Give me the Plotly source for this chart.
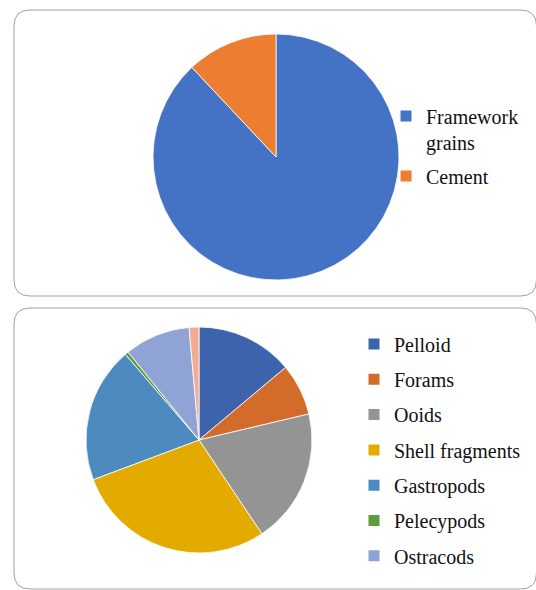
import plotly.graph_objects as go

W, H = 536, 590

# ---- data ----
top_labels = ["Framework grains", "Cement"]
top_legend_text = ["Framework<br>grains", "Cement"]
top_values = [88.0, 12.0]
top_colors = ["#4472C4", "#ED7D31"]

bot_labels = ["Pelloid", "Forams", "Ooids", "Shell fragments", "Gastropods",
              "Pelecypods", "Ostracods", "Other"]
bot_values = [13.9, 7.4, 19.3, 28.7, 19.4, 0.5, 9.4, 1.4]
bot_colors = ["#3D63AC", "#D36B2A", "#949494", "#E3AB00", "#4D8AC0",
              "#5E9C3C", "#8FA3D5", "#F2AC94"]
bot_legend_count = 7  # legend shows the first seven categories

FONT = "Liberation Serif"
FS = 20


def px_x(v):
    return v / W


def px_y(v):
    return 1 - v / H


def domain(cx, cy, r):
    return dict(x=[px_x(cx - r), px_x(cx + r)], y=[px_y(cy + r), px_y(cy - r)])


def rounded_rect(x0, y0, x1, y1, r):
    rx, ry = r / W, r / H
    X0, X1 = px_x(x0), px_x(x1)
    Y0, Y1 = px_y(y0), px_y(y1)  # Y0 top, Y1 bottom
    return (f"M {X0+rx},{Y0} L {X1-rx},{Y0} Q {X1},{Y0} {X1},{Y0-ry} "
            f"L {X1},{Y1+ry} Q {X1},{Y1} {X1-rx},{Y1} "
            f"L {X0+rx},{Y1} Q {X0},{Y1} {X0},{Y1+ry} "
            f"L {X0},{Y0-ry} Q {X0},{Y0} {X0+rx},{Y0} Z")


fig = go.Figure()

fig.add_trace(go.Pie(
    labels=top_labels, values=top_values, sort=False, direction="clockwise",
    rotation=0, textinfo="none", showlegend=False,
    marker=dict(colors=top_colors, line=dict(color="white", width=0.8)),
    domain=domain(276, 157, 123),
))

fig.add_trace(go.Pie(
    labels=bot_labels, values=bot_values, sort=False, direction="clockwise",
    rotation=0, textinfo="none", showlegend=False,
    marker=dict(colors=bot_colors, line=dict(color="white", width=0.8)),
    domain=domain(199, 440, 113),
))

# legend entries
for name, col in zip(top_legend_text, top_colors):
    fig.add_trace(go.Scatter(
        x=[None], y=[None], mode="markers", name=name, legend="legend",
        legendgroup="t_" + name,
        marker=dict(symbol="square", size=11, color=col), hoverinfo="skip"))

for name, col in zip(bot_labels[:bot_legend_count], bot_colors[:bot_legend_count]):
    fig.add_trace(go.Scatter(
        x=[None], y=[None], mode="markers", name=name, legend="legend2",
        legendgroup="b_" + name,
        marker=dict(symbol="square", size=11, color=col), hoverinfo="skip"))

shapes = [
    dict(type="path", xref="paper", yref="paper", layer="below",
         path=rounded_rect(14, 10, 536.5, 296, 16),
         line=dict(color="#A0A0A0", width=1), fillcolor="white"),
    dict(type="path", xref="paper", yref="paper", layer="below",
         path=rounded_rect(14, 308, 536.5, 589, 16),
         line=dict(color="#A0A0A0", width=1), fillcolor="white"),
]

legend_common = dict(
    font=dict(family=FONT, size=FS, color="#111111"),
    bgcolor="rgba(0,0,0,0)", borderwidth=0, traceorder="grouped",
    valign="top", xanchor="left", yanchor="top",
    itemclick=False, itemdoubleclick=False,
)

fig.update_layout(
    width=W, height=H,
    margin=dict(l=0, r=0, t=0, b=0),
    paper_bgcolor="white", plot_bgcolor="rgba(0,0,0,0)",
    xaxis=dict(visible=False, domain=[0, 0.01]),
    yaxis=dict(visible=False, domain=[0, 0.01]),
    shapes=shapes,
    legend=dict(x=px_x(386), y=px_y(96.5), tracegroupgap=5, **legend_common),
    legend2=dict(x=px_x(354), y=px_y(324.5), tracegroupgap=6.3, **legend_common),
)

fig.write_html("out.html", config={"displayModeBar": False},
               post_script="document.body.style.margin='0px';")
